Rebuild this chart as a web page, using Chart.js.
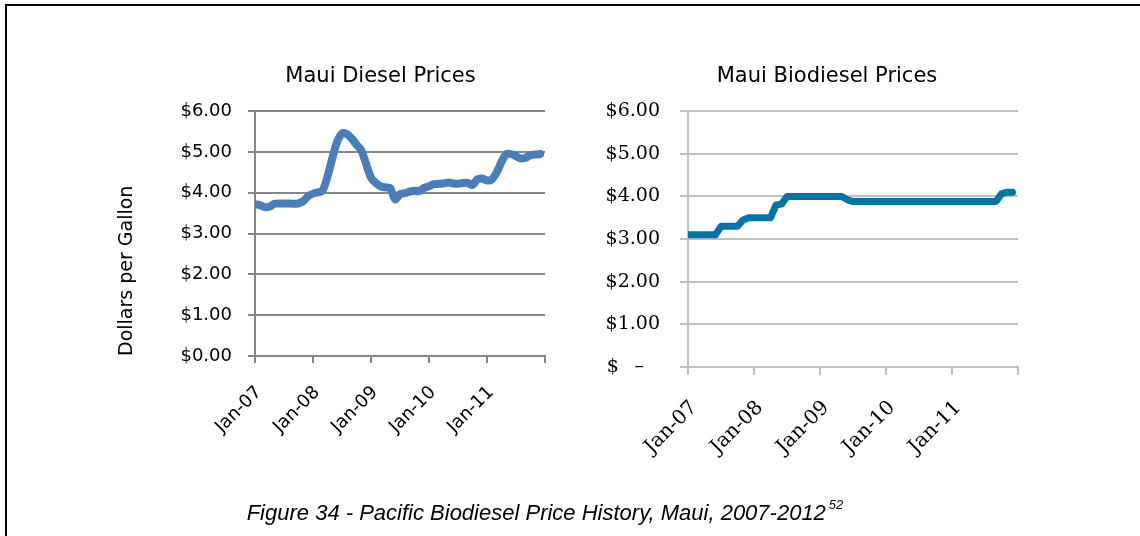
<!DOCTYPE html>
<html>
<head>
<meta charset="utf-8">
<script src="https://cdn.jsdelivr.net/npm/chart.js@4"></script>
<style>
  body { margin: 0; background: #fff; }
  #page { position: relative; width: 1140px; height: 536px; overflow: hidden; background: #fff; }
  #frame { position: absolute; left: 5px; top: 4px; width: 1200px; height: 600px;
           border-top: 2px solid #000; border-left: 2px solid #000; }
  canvas { position: absolute; top: 0; }
  #dieselChart { left: 100px; }
  #biodieselChart { left: 576px; }
  #caption { position: absolute; left: 0; width: 1090px; top: 500px; line-height: 26px;
             text-align: center; color: #000;
             font: italic 22px "Liberation Sans Narrow", "Liberation Sans", sans-serif; }
  #caption sup { font-size: 13px; position: relative; top: -3px; margin-left: 3px; }
</style>
</head>
<body>
<div id="page">
  <div id="frame"></div>
  <canvas id="dieselChart" width="561" height="536"></canvas>
  <canvas id="biodieselChart" width="502" height="536"></canvas>
  <div id="caption">Figure 34 - Pacific Biodiesel Price History, Maui, 2007-2012<sup>52</sup></div>
</div>
<script>
// tick labels for the monthly axis (one per January)
var yearTicks = ['Jan-07', 'Jan-08', 'Jan-09', 'Jan-10', 'Jan-11'];

// monthly prices, Jan 2007 .. Dec 2011
var dieselPrices = [
  3.72, 3.70, 3.65, 3.66, 3.73, 3.74, 3.74, 3.74, 3.73, 3.74, 3.80, 3.92,
  3.98, 4.01, 4.06, 4.40, 4.85, 5.25, 5.45, 5.44, 5.33, 5.18, 5.04, 4.70,
  4.37, 4.24, 4.16, 4.13, 4.11, 3.84, 3.97, 3.99, 4.03, 4.05, 4.04, 4.12,
  4.16, 4.21, 4.22, 4.23, 4.25, 4.23, 4.22, 4.24, 4.24, 4.19, 4.33, 4.35,
  4.30, 4.33, 4.50, 4.76, 4.95, 4.95, 4.90, 4.84, 4.86, 4.92, 4.94, 4.95
];

var biodieselPrices = [
  3.10, 3.10, 3.10, 3.10, 3.10, 3.10, 3.30, 3.30, 3.30, 3.30, 3.45, 3.50,
  3.50, 3.50, 3.50, 3.50, 3.80, 3.82, 4.00, 4.00, 4.00, 4.00, 4.00, 4.00,
  4.00, 4.00, 4.00, 4.00, 4.00, 3.92, 3.88, 3.88, 3.88, 3.88, 3.88, 3.88,
  3.88, 3.88, 3.88, 3.88, 3.88, 3.88, 3.88, 3.88, 3.88, 3.88, 3.88, 3.88,
  3.88, 3.88, 3.88, 3.88, 3.88, 3.88, 3.88, 3.88, 3.88, 4.06, 4.10, 4.10
];

var sansFont = '"DejaVu Sans", sans-serif';
var serifFont = '"DejaVu Serif", serif';

function toPoints(values) {
  return values.map(function (v, i) { return { x: i, y: v }; });
}

function yearLabel(v) {
  return yearTicks[v / 12] || '';
}

// blank box on the right so the title centres over the whole chart object
function spacer(width) {
  return {
    type: 'linear', position: 'right', display: true,
    ticks: { display: false }, grid: { display: false }, border: { display: false },
    afterFit: function (s) { s.width = width; }
  };
}

new Chart(document.getElementById('dieselChart'), {
  type: 'line',
  data: {
    datasets: [{
      data: toPoints(dieselPrices),
      borderColor: '#4a7ebb',
      borderWidth: 8,
      borderCapStyle: 'round',
      borderJoinStyle: 'round',
      pointRadius: 0,
      tension: 0.3,
      fill: false
    }]
  },
  options: {
    responsive: false,
    animation: false,
    devicePixelRatio: 1,
    layout: { padding: 0 },
    plugins: {
      legend: { display: false },
      tooltip: { enabled: false },
      title: {
        display: true, text: 'Maui Diesel Prices', color: '#000',
        font: { family: sansFont, size: 21, weight: 'normal' },
        padding: { top: 64, bottom: 22 }
      }
    },
    scales: {
      x: {
        type: 'linear', min: 0, max: 60,
        afterFit: function (s) { s.height = 180; },
        grid: { drawOnChartArea: false, color: '#868686', lineWidth: 2, tickLength: 7 },
        border: { color: '#868686', width: 2 },
        ticks: {
          stepSize: 12, autoSkip: false, minRotation: 45, maxRotation: 45,
          padding: 19, labelOffset: 4,
          color: '#000', font: { family: sansFont, size: 18 },
          callback: yearLabel
        }
      },
      y: {
        min: 0, max: 6,
        afterFit: function (s) { s.width = 155; },
        grid: { color: '#868686', lineWidth: 2, tickLength: 7 },
        border: { color: '#868686', width: 2 },
        ticks: {
          stepSize: 1, padding: 16, color: '#000',
          font: { family: sansFont, size: 18 },
          callback: function (v) { return '$' + v.toFixed(2); }
        },
        title: {
          display: true, text: 'Dollars per Gallon', align: 'start', color: '#000',
          font: { family: sansFont, size: 19 },
          padding: { top: 16, bottom: 0 }
        }
      },
      yRight: spacer(116)
    }
  }
});

new Chart(document.getElementById('biodieselChart'), {
  type: 'line',
  data: {
    datasets: [{
      data: toPoints(biodieselPrices),
      borderColor: '#0474a4',
      borderWidth: 7,
      borderCapStyle: 'round',
      borderJoinStyle: 'round',
      pointRadius: 0,
      tension: 0,
      fill: false
    }]
  },
  options: {
    responsive: false,
    animation: false,
    devicePixelRatio: 1,
    layout: { padding: 0 },
    plugins: {
      legend: { display: false },
      tooltip: { enabled: false },
      title: {
        display: true, text: 'Maui Biodiesel Prices', color: '#000',
        font: { family: sansFont, size: 21, weight: 'normal' },
        padding: { top: 64, bottom: 22 }
      }
    },
    scales: {
      x: {
        type: 'linear', min: 0, max: 60,
        afterFit: function (s) { s.height = 169; },
        grid: { drawOnChartArea: false, color: '#c0c0c0', lineWidth: 2, tickLength: 8 },
        border: { color: '#c0c0c0', width: 2 },
        ticks: {
          stepSize: 12, autoSkip: false, minRotation: 45, maxRotation: 45,
          padding: 21, labelOffset: 6,
          color: '#000', font: { family: serifFont, size: 20 },
          callback: yearLabel
        }
      },
      y: {
        min: 0, max: 6,
        afterFit: function (s) { s.width = 112; },
        grid: { color: '#c0c0c0', lineWidth: 2, tickLength: 8 },
        border: { color: '#c0c0c0', width: 2 },
        ticks: {
          stepSize: 1, padding: 20, color: '#000',
          font: { family: serifFont, size: 19 },
          callback: function (v) {
            return v === 0 ? '$\u2007\u2009\u2013\u2007\u2009' : '$' + v.toFixed(2);
          }
        }
      },
      yRight: spacer(60)
    }
  }
});
</script>
</body>
</html>
